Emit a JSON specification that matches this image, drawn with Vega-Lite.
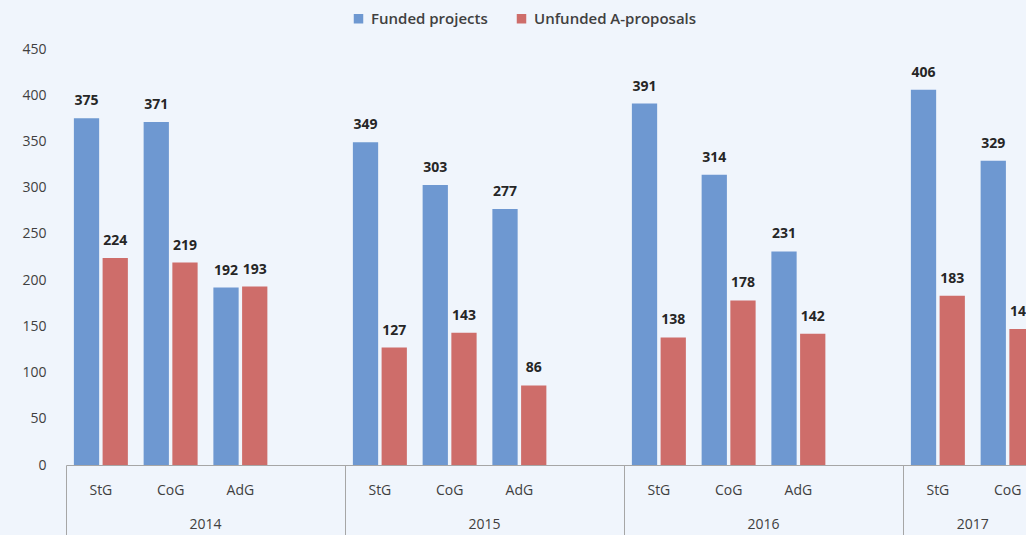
{
  "$schema": "https://vega.github.io/schema/vega-lite/v6.json",
  "autosize": "none",
  "width": 960,
  "height": 416,
  "padding": {"left": 66, "top": 49, "right": 0, "bottom": 70},
  "background": "#F0F5FC",
  "config": {
    "view": {"stroke": null},
    "font": "Open Sans",
    "axis": {"labelFont": "Open Sans", "labelColor": "#404040", "labelFontSize": 14, "grid": false}
  },
  "data": {
    "values": [
      {"year": "2014", "slot": "2014|StG", "series": "Funded projects", "value": 375},
      {"year": "2014", "slot": "2014|StG", "series": "Unfunded A-proposals", "value": 224},
      {"year": "2014", "slot": "2014|CoG", "series": "Funded projects", "value": 371},
      {"year": "2014", "slot": "2014|CoG", "series": "Unfunded A-proposals", "value": 219},
      {"year": "2014", "slot": "2014|AdG", "series": "Funded projects", "value": 192},
      {"year": "2014", "slot": "2014|AdG", "series": "Unfunded A-proposals", "value": 193},
      {"year": "2015", "slot": "2015|StG", "series": "Funded projects", "value": 349},
      {"year": "2015", "slot": "2015|StG", "series": "Unfunded A-proposals", "value": 127},
      {"year": "2015", "slot": "2015|CoG", "series": "Funded projects", "value": 303},
      {"year": "2015", "slot": "2015|CoG", "series": "Unfunded A-proposals", "value": 143},
      {"year": "2015", "slot": "2015|AdG", "series": "Funded projects", "value": 277},
      {"year": "2015", "slot": "2015|AdG", "series": "Unfunded A-proposals", "value": 86},
      {"year": "2016", "slot": "2016|StG", "series": "Funded projects", "value": 391},
      {"year": "2016", "slot": "2016|StG", "series": "Unfunded A-proposals", "value": 138},
      {"year": "2016", "slot": "2016|CoG", "series": "Funded projects", "value": 314},
      {"year": "2016", "slot": "2016|CoG", "series": "Unfunded A-proposals", "value": 178},
      {"year": "2016", "slot": "2016|AdG", "series": "Funded projects", "value": 231},
      {"year": "2016", "slot": "2016|AdG", "series": "Unfunded A-proposals", "value": 142},
      {"year": "2017", "slot": "2017|StG", "series": "Funded projects", "value": 406},
      {"year": "2017", "slot": "2017|StG", "series": "Unfunded A-proposals", "value": 183},
      {"year": "2017", "slot": "2017|CoG", "series": "Funded projects", "value": 329},
      {"year": "2017", "slot": "2017|CoG", "series": "Unfunded A-proposals", "value": 147}
    ]
  },
  "layer": [
    {
      "encoding": {
        "x": {
          "field": "slot", "type": "nominal",
          "scale": {
            "domain": ["2014|StG","2014|CoG","2014|AdG","2014|","2015|StG","2015|CoG","2015|AdG","2015|","2016|StG","2016|CoG","2016|AdG","2016|","2017|StG","2017|CoG"],
            "range": [0, 976.5], "paddingInner": 0.226, "paddingOuter": 0.113
          },
          "axis": {"title": null, "labelExpr": "split(datum.value,'|')[1]", "ticks": false, "domainColor": "#A6A6A6", "labelPadding": 18, "labelAngle": 0}
        },
        "xOffset": {"field": "series", "type": "nominal", "scale": {"paddingInner": 0.12, "paddingOuter": 0}},
        "y": {
          "field": "value", "type": "quantitative",
          "scale": {"domain": [0, 450]},
          "axis": {"title": null, "values": [0,50,100,150,200,250,300,350,400,450], "ticks": false, "domain": false, "labelPadding": 20}
        }
      },
      "layer": [
        {
          "mark": {"type": "bar", "clip": true},
          "encoding": {
            "color": {
              "field": "series", "type": "nominal",
              "scale": {"domain": ["Funded projects", "Unfunded A-proposals"], "range": ["#6E98D1", "#CE6D6A"]},
              "legend": {
                "title": null, "orient": "none", "direction": "horizontal", "legendX": 285, "legendY": -38,
                "symbolType": "square", "symbolSize": 90, "symbolStrokeWidth": 0, "labelFontSize": 15, "labelFont": "Open Sans",
                "labelColor": "#404040", "labelFontWeight": 600, "columnPadding": 26, "labelOffset": 5, "labelLimit": 400
              }
            }
          }
        },
        {
          "mark": {"type": "text", "dy": -17, "fontSize": 14, "fontWeight": "bold", "color": "#262626", "font": "Open Sans"},
          "encoding": {
            "text": {"field": "value", "type": "quantitative"}
          }
        }
      ]
    },
    {
      "mark": {"type": "rule", "opacity": 0},
      "encoding": {
        "x": {
          "field": "year", "type": "nominal",
          "scale": {"domain": ["2014","2015","2016","2017"], "range": [0, 1116], "paddingInner": 0, "paddingOuter": 0},
          "axis": {
            "title": null, "orient": "bottom", "domain": false, "ticks": true, "bandPosition": 0, "tickSize": 70,
            "tickColor": "#A6A6A6", "labelPadding": -18, "labelAngle": 0,
            "labelOffset": {"condition": {"test": "datum.value === '2017'", "value": -69.75}, "value": 0}
          }
        }
      }
    }
  ],
  "resolve": {"scale": {"x": "independent"}}
}
